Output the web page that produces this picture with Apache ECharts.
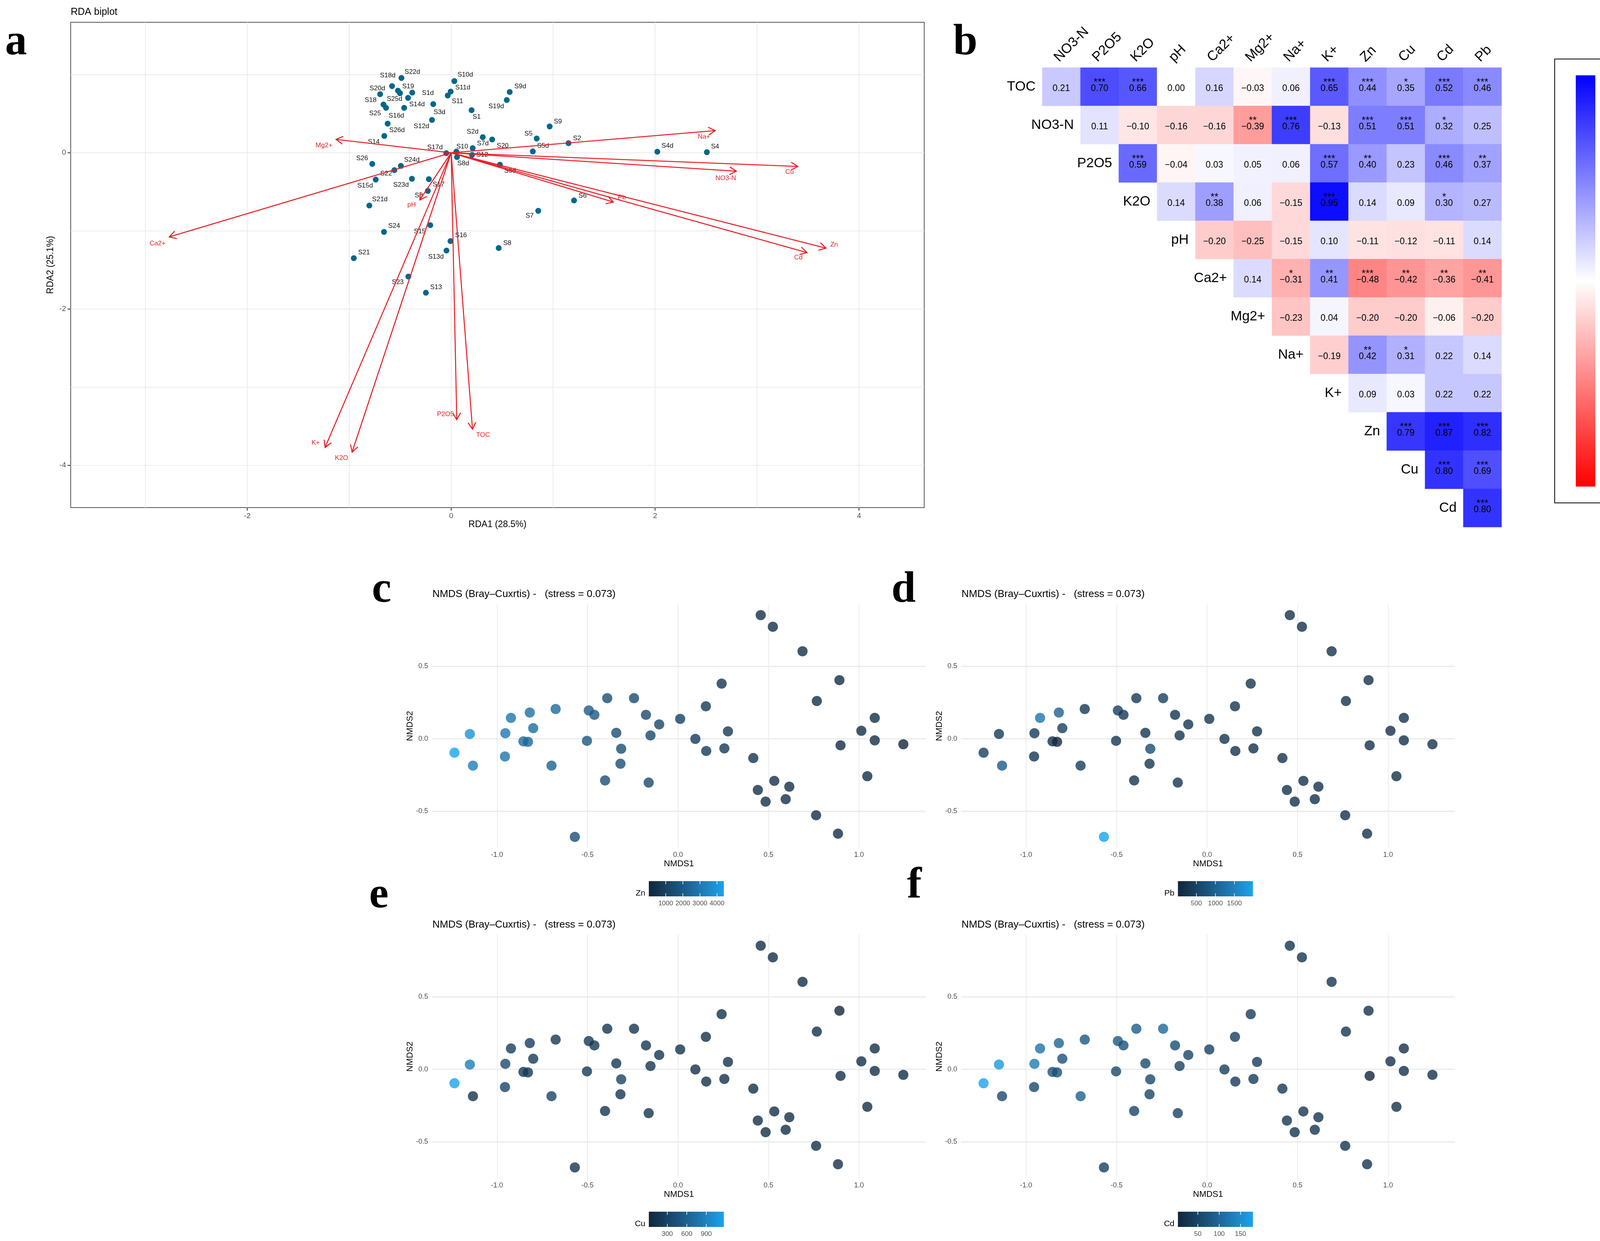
<!DOCTYPE html>
<html><head><meta charset="utf-8">
<script src="https://cdn.jsdelivr.net/npm/echarts@6/dist/echarts.min.js"></script>
<style>html,body{margin:0;padding:0;background:#fff;overflow:hidden}#c{position:absolute;left:0;top:0;width:4277px;height:3176px}</style>
</head><body><div id="c"></div>
<script>
// ---------------- DATA ----------------
// Panel a: RDA site scores
const rdaSamples = ['S22d','S18d','S19','S25d','S1d','S20d','S14d','S18','S25','S16d','S3d','S12d','S26d','S14','S10d','S11d','S11','S9d','S19d','S1','S9','S5','S2','S5d','S2d','S20','S7d','S10','S17d','S12','S8d','S6d','S26','S24d','S22','S15d','S23d','S17','S3','S21d','S6','S7','S24','S15','S16','S13d','S8','S21','S23','S13','S4d','S4'];
const rdaX = [-0.488,-0.580,-0.522,-0.502,-0.382,-0.697,-0.423,-0.664,-0.639,-0.461,-0.176,-0.188,-0.623,-0.656,0.031,-0.005,-0.034,0.574,0.545,0.200,0.966,0.839,1.151,0.801,0.310,0.402,0.211,0.051,-0.048,0.205,0.057,0.478,-0.774,-0.493,-0.557,-0.740,-0.385,-0.219,-0.229,-0.803,1.205,0.854,-0.659,-0.205,-0.007,-0.046,0.466,-0.955,-0.420,-0.248,2.022,2.508];
const rdaY = [0.957,0.853,0.795,0.762,0.770,0.750,0.703,0.617,0.575,0.575,0.623,0.420,0.373,0.215,0.917,0.783,0.733,0.778,0.675,0.545,0.337,0.182,0.123,0.017,0.200,0.170,0.060,0.015,-0.005,-0.027,-0.055,-0.152,-0.142,-0.168,-0.222,-0.343,-0.333,-0.338,-0.488,-0.675,-0.610,-0.743,-1.013,-0.926,-1.130,-1.251,-1.219,-1.349,-1.584,-1.791,0.014,0.007];
// Panel a: environmental vectors
const envVars = ['Na+','Cu','NO3-N','Pb','Zn','Cd','Mg2+','Ca2+','pH','K+','K2O','P2O5','TOC'];
const envX = [2.59,3.40,2.797,1.59,3.676,3.49,-1.129,-2.765,-0.308,-1.237,-0.972,0.055,0.209];
const envY = [0.284,-0.175,-0.236,-0.63,-1.22,-1.278,0.171,-1.076,-0.604,-3.77,-3.83,-3.415,-3.537];
const rdaXTicks = [-2,0,2,4], rdaYTicks = [-4,-2,0];
const rdaXGrid = [-3,-2,-1,0,1,2,3,4], rdaYGrid = [-4,-3,-2,-1,0,1];

// Panel b: correlation matrix (upper triangle, row i starts at column i)
const corrCols = ['NO3-N','P2O5','K2O','pH','Ca2+','Mg2+','Na+','K+','Zn','Cu','Cd','Pb'];
const corrRows = ['TOC','NO3-N','P2O5','K2O','pH','Ca2+','Mg2+','Na+','K+','Zn','Cu','Cd'];
const corrUpper = [
 [0.21,0.70,0.66,0.00,0.16,-0.03,0.06,0.65,0.44,0.35,0.52,0.46],
 [0.11,-0.10,-0.16,-0.16,-0.39,0.76,-0.13,0.51,0.51,0.32,0.25],
 [0.59,-0.04,0.03,0.05,0.06,0.57,0.40,0.23,0.46,0.37],
 [0.14,0.38,0.06,-0.15,0.95,0.14,0.09,0.30,0.27],
 [-0.20,-0.25,-0.15,0.10,-0.11,-0.12,-0.11,0.14],
 [0.14,-0.31,0.41,-0.48,-0.42,-0.36,-0.41],
 [-0.23,0.04,-0.20,-0.20,-0.06,-0.20],
 [-0.19,0.42,0.31,0.22,0.14],
 [0.09,0.03,0.22,0.22],
 [0.79,0.87,0.82],
 [0.80,0.69],
 [0.80]
];
const corrStars = [
 [0,3,3,0,0,0,0,3,3,1,3,3],
 [0,0,0,0,2,3,0,3,3,1,0],
 [3,0,0,0,0,3,2,0,3,2],
 [0,2,0,0,3,0,0,1,0],
 [0,0,0,0,0,0,0,0],
 [0,1,2,3,2,2,2],
 [0,0,0,0,0,0],
 [0,2,1,0,0],
 [0,0,0,0],
 [3,3,3],
 [3,3],
 [3]
];

// Panels c-f: NMDS scores and metal concentrations
const nmds1 = [0.457,0.524,0.688,0.241,0.892,0.767,-0.391,-0.243,0.154,-0.676,-0.819,-0.493,-0.462,-0.177,-0.923,1.087,0.012,-0.104,-0.800,0.276,1.013,-1.150,-0.954,-0.341,-0.152,0.096,-0.854,-0.829,-0.503,1.087,0.898,1.245,-0.314,0.156,0.256,-1.235,-0.956,0.416,-1.133,-0.699,-0.318,1.046,-0.403,-0.162,0.532,0.615,0.441,0.595,0.484,0.763,0.884,-0.570];
const nmds2 = [0.852,0.772,0.603,0.380,0.404,0.260,0.280,0.280,0.224,0.205,0.181,0.195,0.165,0.165,0.144,0.144,0.137,0.099,0.073,0.051,0.055,0.033,0.038,0.041,0.023,-0.001,-0.018,-0.021,-0.014,-0.011,-0.045,-0.038,-0.069,-0.084,-0.066,-0.096,-0.122,-0.133,-0.185,-0.185,-0.172,-0.258,-0.287,-0.302,-0.290,-0.330,-0.353,-0.416,-0.433,-0.527,-0.654,-0.676];
const zn = [350,350,300,600,300,300,1500,1400,700,2500,2700,2000,1900,1300,2900,300,1000,1200,2600,700,300,3900,3000,1500,1300,800,2600,2400,1800,300,250,10,1500,800,700,4400,2900,500,3200,2200,1500,300,1500,1300,400,400,400,350,400,300,250,1600];
const pb = [200,200,200,250,200,200,350,450,250,300,1000,450,300,250,1300,200,250,250,400,250,200,350,350,300,250,250,200,15,300,200,200,200,650,200,200,450,300,200,900,400,300,200,250,250,200,200,200,200,200,200,200,1985];
const cu = [100,100,100,120,15,100,150,160,120,200,250,200,180,150,250,100,130,150,220,120,100,850,350,180,150,120,200,200,200,100,100,100,300,120,120,1170,330,100,150,320,180,100,160,160,100,100,100,100,100,100,100,160];
const cd = [25,25,25,35,20,25,85,100,40,75,95,80,70,60,115,20,45,50,70,35,20,165,125,55,45,40,70,65,55,20,3.4,20,55,35,35,179,55,30,55,90,50,20,50,45,25,25,25,25,25,25,25,45];
const znTicks = [1000,2000,3000,4000], pbTicks = [500,1000,1500], cuTicks = [300,600,900], cdTicks = [50,100,150];
const nmdsXTicks = [-1,-0.5,0,0.5,1], nmdsYTicks = [-0.5,0,0.5];

// ---------------- LAYOUT / STYLE ----------------
const FONT = '"Liberation Sans", Arial, Helvetica, sans-serif';
const SERIF = '"Liberation Serif", "Times New Roman", serif';
const RED = '#EC1C24';
const rdaLabelOffset = [[28,-15],[-11,-27],[26,-11],[-14,15],[40,1],[-7,-15],[23,17],[-33,-11],[-28,14],[-20,20],[16,21],[-27,16],[24,17],[-27,15],[28,-16],[31,-10],[25,15],[27,-14],[-27,16],[13,17],[21,-12],[-21,-12],[22,-12],[26,-14],[-26,-14],[27,16],[26,-12],[15,-13],[-29,-15],[26,0],[16,16],[26,16],[-26,-14],[28,-15],[-21,9],[-27,16],[-28,16],[25,14],[-23,12],[27,-16],[22,-12],[-22,13],[26,-15],[-27,16],[27,-15],[-27,16],[22,-12],[26,-14],[-27,15],[26,-14],[26,-15],[21,-14]];
const envLabelOffset = [[-29,16],[-21,14],[-27,18],[22,-12],[21,-9],[-22,13],[-31,16],[-30,17],[-21,13],[-24,-12],[-27,15],[-29,-14],[27,15]];
const NM = {left:1106, top:1546, width:1264, height:624, xr:[-1.359,1.369], yr:[-0.752,0.928]};
const panels = [
  {dx:0, dy:0, vals:zn, ticks:znTicks, title:'Zn'},
  {dx:1354.5, dy:0, vals:pb, ticks:pbTicks, title:'Pb'},
  {dx:0, dy:846, vals:cu, ticks:cuTicks, title:'Cu'},
  {dx:1354.5, dy:846, vals:cd, ticks:cdTicks, title:'Cd'}
];
const LOW = '#11273D', HIGH = '#1AA3EC';

// Lab interpolation (like ggplot2 gradient)
function hex2rgb(h){h=h.replace('#','');return [0,2,4].map(i=>parseInt(h.substr(i,2),16));}
function rgb2lab(c){
  const l=c.map(v=>{v/=255;return v<=0.04045?v/12.92:Math.pow((v+0.055)/1.055,2.4);});
  const X=(0.4124564*l[0]+0.3575761*l[1]+0.1804375*l[2])/0.95047;
  const Y=(0.2126729*l[0]+0.7151522*l[1]+0.0721750*l[2]);
  const Z=(0.0193339*l[0]+0.1191920*l[1]+0.9503041*l[2])/1.08883;
  const f=t=>t>216/24389?Math.cbrt(t):(24389/27*t+16)/116;
  const fx=f(X),fy=f(Y),fz=f(Z);
  return [116*fy-16,500*(fx-fy),200*(fy-fz)];
}
function lab2hex(L){
  const fy=(L[0]+16)/116, fx=fy+L[1]/500, fz=fy-L[2]/200;
  const finv=t=>{const t3=t*t*t;return t3>216/24389?t3:(116*t-16)/(24389/27);};
  const X=finv(fx)*0.95047, Y=finv(fy), Z=finv(fz)*1.08883;
  const r= 3.2404542*X-1.5371385*Y-0.4985314*Z;
  const g=-0.9692660*X+1.8760108*Y+0.0415560*Z;
  const b= 0.0556434*X-0.2040259*Y+1.0572252*Z;
  return '#'+[r,g,b].map(v=>{v=v<=0.0031308?12.92*v:1.055*Math.pow(v,1/2.4)-0.055;v=Math.round(Math.max(0,Math.min(1,v))*255);return v.toString(16).padStart(2,'0');}).join('');
}
function labRamp(lo,hi,n){const a=rgb2lab(hex2rgb(lo)),b=rgb2lab(hex2rgb(hi));const out=[];for(let i=0;i<n;i++){const t=i/(n-1);out.push(lab2hex(a.map((v,k)=>v+(b[k]-v)*t)));}return out;}
const ramp = labRamp(LOW, HIGH, 21);
const fmtMinus = v => (v<0?'\u2212':'') + Math.abs(v).toFixed(1);

// ---------------- BUILD ----------------
const chart = echarts.init(document.getElementById('c'), null, {renderer:'canvas', width:4277, height:3176, devicePixelRatio:1});

const heatData = [], heatLabelData = [];
corrUpper.forEach((row,i)=>row.forEach((v,k)=>{heatData.push([i+k,i,v]);heatLabelData.push([i+k,i,v,corrStars[i][k]]);}));

const NOLINE = {show:false,onZero:false};
const grids = [
  {left:181,top:57,width:2185,height:1242,show:true,borderColor:'#555555',borderWidth:2},
  {left:2668,top:173,width:1176,height:1176},
  {left:4034,top:192.7,width:50,height:1052.5}
].concat(panels.map(p=>({left:NM.left+p.dx, top:NM.top+p.dy, width:NM.width, height:NM.height})));

const xAxes = [
  {gridIndex:0,type:'value',position:'bottom',min:-3.732,max:4.640,minInterval:1,maxInterval:1,axisLine:NOLINE,axisTick:{show:false,customValues:rdaXGrid},axisLabel:{show:false},splitLine:{show:true,lineStyle:{color:'#EBEBEB',width:2}}},
  {gridIndex:0,type:'value',position:'bottom',min:-3.732,max:4.640,axisLine:NOLINE,axisTick:{show:true,length:8,customValues:rdaXTicks,lineStyle:{color:'#333',width:2}},axisLabel:{customValues:rdaXTicks,fontSize:19,color:'#4D4D4D',margin:12,fontFamily:FONT},splitLine:{show:false},
   name:'RDA1 (28.5%)',nameLocation:'middle',nameGap:31,nameTextStyle:{fontSize:23,color:'#000',fontFamily:FONT}},
  {gridIndex:1,type:'category',data:corrCols,show:false},
  {gridIndex:2,type:'value',min:0,max:1,show:false}
].concat(panels.map((p,k)=>({gridIndex:3+k,type:'value',position:'bottom',min:NM.xr[0],max:NM.xr[1],minInterval:0.5,maxInterval:0.5,axisLine:NOLINE,
   axisTick:{show:false,customValues:nmdsXTicks},axisLabel:{customValues:nmdsXTicks,formatter:v=>v.toFixed(1),fontSize:18,color:'#4D4D4D',margin:9,fontFamily:FONT},
   splitLine:{show:true,lineStyle:{color:'#EBEBEB',width:2}},name:'NMDS1',nameLocation:'middle',nameGap:30,nameTextStyle:{fontSize:22,color:'#000',fontFamily:FONT}})));

const yAxes = [
  {gridIndex:0,type:'value',position:'left',min:-4.54,max:1.67,minInterval:1,maxInterval:1,axisLine:NOLINE,axisTick:{show:false,customValues:rdaYGrid},axisLabel:{show:false},splitLine:{show:true,lineStyle:{color:'#EBEBEB',width:2}}},
  {gridIndex:0,type:'value',position:'left',min:-4.54,max:1.67,axisLine:NOLINE,axisTick:{show:true,length:8,customValues:rdaYTicks,lineStyle:{color:'#333',width:2}},axisLabel:{customValues:rdaYTicks,fontSize:19,color:'#4D4D4D',margin:12,fontFamily:FONT},splitLine:{show:false},
   name:'RDA2 (25.1%)',nameLocation:'middle',nameGap:32,nameTextStyle:{fontSize:23,color:'#000',fontFamily:FONT}},
  {gridIndex:1,type:'category',data:corrRows,inverse:true,show:false},
  {gridIndex:2,type:'value',min:-1,max:1,interval:0.5,position:'right',offset:70,axisLine:NOLINE,axisTick:{show:true,length:24,lineStyle:{color:'#000',width:2}},
   axisLabel:{margin:45,fontSize:30,color:'#000',fontFamily:FONT,formatter:fmtMinus},splitLine:{show:false}}
].concat(panels.map((p,k)=>({gridIndex:3+k,type:'value',position:'left',min:NM.yr[0],max:NM.yr[1],minInterval:0.5,maxInterval:0.5,axisLine:NOLINE,
   axisTick:{show:false,customValues:nmdsYTicks},axisLabel:{customValues:nmdsYTicks,formatter:v=>v.toFixed(1),fontSize:18,color:'#4D4D4D',margin:10,fontFamily:FONT},
   splitLine:{show:true,lineStyle:{color:'#EBEBEB',width:3}},name:'NMDS2',nameLocation:'middle',nameGap:45,nameTextStyle:{fontSize:22,color:'#000',fontFamily:FONT}})));

const series = [
  {type:'scatter',xAxisIndex:0,yAxisIndex:0,symbolSize:15,z:2,silent:true,
   itemStyle:{color:'#00688B',opacity:1},
   label:{show:true,position:'inside',formatter:'{b}',fontSize:17,color:'#111',fontFamily:FONT},
   data:rdaSamples.map((n,i)=>({name:n,value:[rdaX[i],rdaY[i]],label:{offset:rdaLabelOffset[i]}}))},
  {type:'custom',xAxisIndex:0,yAxisIndex:0,z:5,silent:true,
   data:envVars.map((n,i)=>[envX[i],envY[i]]),
   renderItem:(params,api)=>{
     const i=params.dataIndex;
     const o=api.coord([0,0]), p=api.coord([api.value(0),api.value(1)]);
     const a=Math.atan2(p[1]-o[1],p[0]-o[0]), L=20, h=Math.PI/6;
     const h1=[p[0]-L*Math.cos(a-h),p[1]-L*Math.sin(a-h)], h2=[p[0]-L*Math.cos(a+h),p[1]-L*Math.sin(a+h)];
     return {type:'group',children:[
       {type:'line',shape:{x1:o[0],y1:o[1],x2:p[0],y2:p[1]},style:{stroke:RED,lineWidth:2.6}},
       {type:'polyline',shape:{points:[h1,p,h2]},style:{stroke:RED,lineWidth:2.6,fill:null}},
       {type:'text',x:p[0]+envLabelOffset[i][0],y:p[1]+envLabelOffset[i][1],style:{text:envVars[i],fill:RED,font:'17px '+FONT,align:'center',verticalAlign:'middle'}}
     ]};
   }},
  {type:'heatmap',xAxisIndex:2,yAxisIndex:2,data:heatData,silent:true,itemStyle:{borderWidth:0}},
  {type:'custom',xAxisIndex:2,yAxisIndex:2,z:5,silent:true,data:heatLabelData,
   renderItem:(params,api)=>{
     const c=api.coord([api.value(0),api.value(1)]);
     const v=api.value(2), s=api.value(3);
     const ch=[{type:'text',x:c[0],y:c[1]+5,style:{text:(v<0?'\u2212':'')+Math.abs(v).toFixed(2),fill:'#000',font:'23px '+FONT,align:'center',verticalAlign:'middle'}}];
     if(s>0) ch.push({type:'text',x:c[0],y:c[1]-11,style:{text:'*'.repeat(s),fill:'#000',font:'26px '+FONT,align:'center',verticalAlign:'middle'}});
     return {type:'group',children:ch};
   }},
  {type:'custom',xAxisIndex:2,yAxisIndex:2,z:5,silent:true,
   data:corrRows.map((n,i)=>[i,i]),
   renderItem:(params,api)=>{
     const i=params.dataIndex;
     const c=api.coord([i,i]), sz=api.size([1,1]);
     const ch=[{type:'text',x:c[0]-sz[0]/2-17,y:c[1],style:{text:corrRows[i],fill:'#000',font:'35px '+FONT,align:'right',verticalAlign:'middle'}}];
     const t=api.coord([i,0]);
     ch.push({type:'text',x:t[0],y:t[1]-sz[1]/2-8,rotation:Math.PI/4,style:{text:corrCols[i],fill:'#000',font:'35px '+FONT,align:'left',verticalAlign:'bottom'}});
     return {type:'group',children:ch};
   }}
].concat(panels.map((p,k)=>({type:'scatter',xAxisIndex:4+k,yAxisIndex:4+k,symbolSize:26,silent:true,
   data:nmds1.map((x,i)=>[x,nmds2[i],p.vals[i]])})));

const visualMaps = [
  {type:'continuous',show:false,seriesIndex:2,dimension:2,min:-1,max:1,inRange:{color:['#FF0000','#FFFFFF','#0000FF']}}
].concat(panels.map((p,k)=>({type:'continuous',show:false,seriesIndex:5+k,dimension:2,min:Math.min(...p.vals),max:Math.max(...p.vals),inRange:{color:ramp}})));

// graphics
const G = [];
const letter = (t,x,base)=>G.push({type:'text',x:x,y:base-0.34*112,style:{text:t,font:'bold 112px '+SERIF,fill:'#000',align:'left',verticalAlign:'middle'}});
letter('a',13,148); letter('b',2440,148); letter('c',952,1549); letter('d',2282,1549); letter('e',945,2331); letter('f',2322,2306);
G.push({type:'text',x:181,y:31,style:{text:'RDA biplot',font:'25px '+FONT,fill:'#000',align:'left',verticalAlign:'middle'}});
// correlation colorbar
G.push({type:'rect',shape:{x:4034,y:192.7,width:50,height:1052.5},style:{fill:new echarts.graphic.LinearGradient(0,0,0,1,[{offset:0,color:'#0000FF'},{offset:0.5,color:'#FFFFFF'},{offset:1,color:'#FF0000'}])}});
G.push({type:'rect',shape:{x:3980,y:151,width:174,height:1136},style:{fill:null,stroke:'#000',lineWidth:2}});
// NMDS titles & legends
panels.forEach(p=>{
  G.push({type:'text',x:NM.left+1+p.dx,y:1521+p.dy,style:{text:'NMDS (Bray\u2013Cuxrtis) -   (stress = 0.073)',font:'26px '+FONT,fill:'#000',align:'left',verticalAlign:'middle'}});
  const x0=1661+p.dx, y0=2255+p.dy, w=192, h=39;
  const mn=Math.min(...p.vals), mx=Math.max(...p.vals);
  G.push({type:'rect',shape:{x:x0,y:y0,width:w,height:h},style:{fill:new echarts.graphic.LinearGradient(0,0,1,0,ramp.map((c,i)=>({offset:i/(ramp.length-1),color:c})))}});
  p.ticks.forEach(t=>{
    const x=x0+(t-mn)/(mx-mn)*w;
    G.push({type:'line',shape:{x1:x,y1:y0,x2:x,y2:y0+8},style:{stroke:'#fff',lineWidth:1.5}});
    G.push({type:'line',shape:{x1:x,y1:y0+h-8,x2:x,y2:y0+h},style:{stroke:'#fff',lineWidth:1.5}});
    G.push({type:'text',x:x,y:y0+h+18,style:{text:String(t),font:'17px '+FONT,fill:'#4D4D4D',align:'center',verticalAlign:'middle'}});
  });
  G.push({type:'text',x:x0-9,y:y0+h+3,style:{text:p.title,font:'21px '+FONT,fill:'#000',align:'right',verticalAlign:'bottom'}});
});

chart.setOption({
  animation:false,
  backgroundColor:'#ffffff',
  textStyle:{fontFamily:FONT},
  grid:grids, xAxis:xAxes, yAxis:yAxes, visualMap:visualMaps, series:series,
  graphic:{elements:G}
});
</script>
</body></html>
